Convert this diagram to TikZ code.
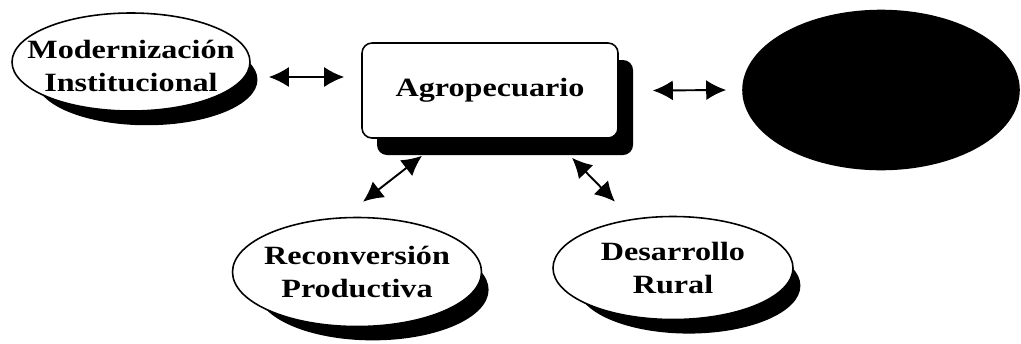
\documentclass[tikz,border=0pt]{standalone}
\usepackage{fontspec}
\usepackage{tikz}
\usetikzlibrary{shapes.geometric,arrows.meta,positioning,calc,shadows}
\setmainfont[FakeStretch=1.22]{Liberation Serif}

\begin{document}
\begin{tikzpicture}
    \tikzstyle{lbl} = [font=\fontsize{15}{19}\selectfont\bfseries, align=center, inner sep=0pt]
    \tikzstyle{oval} = [ellipse, draw=black, line width=0.9pt, fill=white, inner sep=0pt, drop shadow={shadow xshift=0.34cm, shadow yshift=-0.38cm, shadow scale=0.93, fill=black, opacity=1}]
    \tikzstyle{darkoval} = [ellipse, draw=black, line width=0.9pt, fill=black, inner sep=0pt]
    \tikzstyle{sbox} = [draw=black, line width=0.9pt, fill=white, rounded corners=2mm, minimum width=5.12cm, minimum height=1.9cm, font=\fontsize{15}{19}\selectfont\bfseries, align=center, drop shadow={shadow xshift=0.3cm, shadow yshift=-0.34cm, fill=black, opacity=1}]
    \tikzstyle{darrow} = [line width=1.1pt, {Latex[length=4mm,width=4mm]}-{Latex[length=4mm,width=4mm]}]

    \useasboundingbox (0,0) rectangle (20.42,-6.86);

    \node[oval, minimum width=4.76cm, minimum height=1.96cm, label={[lbl, yshift=-0.08cm]center:Modernización\\Institucional}] (moder) at (2.62, -1.24) {};
    \node[sbox] (agro) at (9.8, -1.81) {Agropecuario};
    \node[darkoval, minimum width=5.52cm, minimum height=3.18cm] (dark) at (17.62, -1.8) {};
    \node[oval, minimum width=4.98cm, minimum height=2.18cm, label={[lbl]center:Reconversión\\Productiva}] (recon) at (7.14, -5.44) {};
    \node[oval, minimum width=4.8cm, minimum height=2.06cm, label={[lbl]center:Desarrollo\\Rural}] (desa) at (13.46, -5.36) {};

    \draw[darrow] ($(moder.east)+(0.36,-0.3)$) -- ($(agro.west)+(-0.34,0.27)$);
    \draw[darrow] ($(agro.east)+(0.68,0)$) -- ($(dark.west)+(-0.32,0)$);
    \draw[darrow] ($(agro.south)+(-1.36,-0.34)$) -- ($(recon.north)+(0.12,0.3)$);
    \draw[darrow] ($(agro.south)+(1.64,-0.38)$) -- ($(desa.north)+(-1.16,0.28)$);
\end{tikzpicture}
\end{document}
